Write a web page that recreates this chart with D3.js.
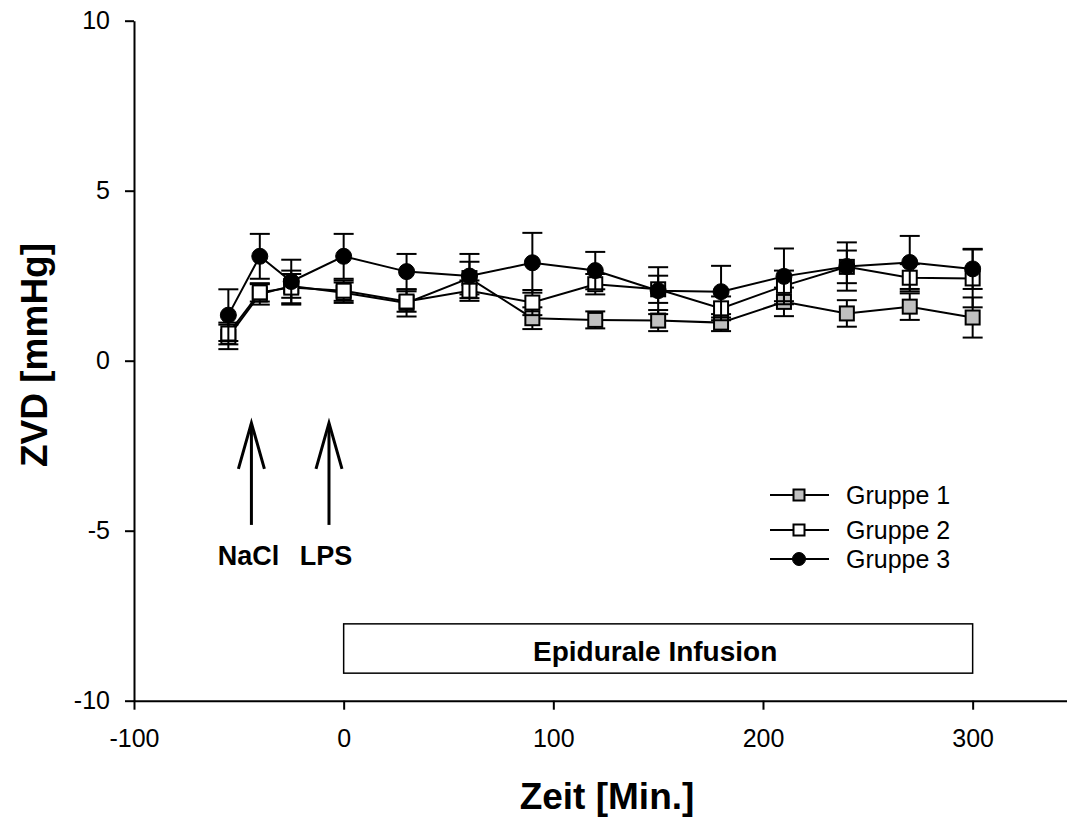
<!DOCTYPE html>
<html>
<head>
<meta charset="utf-8">
<script src="https://cdn.jsdelivr.net/npm/d3@7"></script>
<style>
  body { margin: 0; background: #fff; }
  svg { font-family: "Liberation Sans", Arial, sans-serif; }
</style>
</head>
<body>
<div id="chart"></div>
<script>
// time points in minutes
var times = [-55, -40, -25, 0, 30, 60, 90, 120, 150, 180, 210, 240, 270, 300];

// ZVD means and SEM per group
var gruppe1 = [0.70, 1.95, 2.20, 2.00, 1.70, 2.43, 1.25, 1.20, 1.18, 1.12, 1.73, 1.39, 1.59, 1.27];
var gruppe1Err = [0.36, 0.30, 0.35, 0.30, 0.40, 0.48, 0.32, 0.25, 0.31, 0.25, 0.42, 0.39, 0.39, 0.59];
var gruppe2 = [0.80, 2.01, 2.15, 2.06, 1.74, 2.06, 1.71, 2.25, 2.10, 1.54, 2.20, 2.76, 2.44, 2.42];
var gruppe2Err = [0.32, 0.27, 0.50, 0.30, 0.30, 0.30, 0.37, 0.30, 0.40, 0.35, 0.45, 0.48, 0.40, 0.85];
var gruppe3 = [1.34, 3.07, 2.33, 3.07, 2.62, 2.49, 2.88, 2.65, 2.06, 2.03, 2.48, 2.77, 2.89, 2.70];
var gruppe3Err = [0.76, 0.66, 0.64, 0.66, 0.52, 0.65, 0.88, 0.55, 0.69, 0.76, 0.82, 0.71, 0.78, 0.59];

var seriesNames = ['Gruppe 1', 'Gruppe 2', 'Gruppe 3'];
var xTicks = [-100, 0, 100, 200, 300];
var yTicks = [-10, -5, 0, 5, 10];

// annotations
var arrowLabels = ['NaCl', 'LPS'];
var arrowTimes = [-44, -7];
var infusionLabel = 'Epidurale Infusion';
var infusionStart = 0, infusionEnd = 300;

var W = 1067, H = 818;
var svg = d3.select('#chart').append('svg')
            .attr('width', W)
            .attr('height', H);

var x = d3.scaleLinear().domain([-100, 345]).range([134, 1067]);
var y = d3.scaleLinear().domain([-10, 10]).range([700.7, 20.7]);

// axes (plain hyphen for negatives, like the original)
var xAxis = svg.append('g')
               .attr('transform', 'translate(0,' + y(-10) + ')')
               .call(d3.axisBottom(x).tickValues(xTicks).tickFormat(String)
                       .tickSize(9).tickSizeOuter(0).tickPadding(20));
var yAxis = svg.append('g')
               .attr('transform', 'translate(' + x(-100) + ',0)')
               .call(d3.axisLeft(y).tickValues(yTicks).tickFormat(String)
                       .tickSize(9).tickSizeOuter(0).tickPadding(15));

[xAxis, yAxis].forEach(function(a) {
   a.select('.domain').style('stroke', '#000').style('stroke-width', 2);
   a.selectAll('.tick line').style('stroke', '#000').style('stroke-width', 2);
   a.selectAll('.tick text').style('font-size', '25px').style('fill', '#000');
});

// axis titles
svg.append('text')
   .attr('x', 607).attr('y', 809)
   .attr('text-anchor', 'middle')
   .style('font-weight', 'bold').style('font-size', '37px')
   .text('Zeit [Min.]');

svg.append('text')
   .attr('transform', 'translate(47,355) rotate(-90)')
   .attr('text-anchor', 'middle')
   .style('font-weight', 'bold').style('font-size', '37px')
   .text('ZVD [mmHg]');

// infusion box
svg.append('rect')
   .attr('x', x(infusionStart)).attr('y', y(-7.74))
   .attr('width', x(infusionEnd) - x(infusionStart))
   .attr('height', y(-9.19) - y(-7.74))
   .style('fill', 'white').style('stroke', '#000').style('stroke-width', 1.5);
svg.append('text')
   .attr('x', (x(infusionStart) + x(infusionEnd)) / 2 - 3).attr('y', 661)
   .attr('text-anchor', 'middle')
   .style('font-weight', 'bold').style('font-size', '28px')
   .text(infusionLabel);

// arrows
arrowTimes.forEach(function(t, i) {
   var ax = x(t), top = y(-1.83), bot = y(-4.83);
   var g = svg.append('g').style('stroke', '#000').style('stroke-width', 3).style('fill', 'none');
   g.append('line').attr('x1', ax).attr('x2', ax).attr('y1', top + 1).attr('y2', bot);
   g.append('path').attr('d', 'M' + (ax - 13) + ',' + (top + 46) + 'L' + ax + ',' + top + 'L' + (ax + 13) + ',' + (top + 46));
   svg.append('text')
      .attr('x', ax - 3).attr('y', 565)
      .attr('text-anchor', 'middle')
      .style('font-weight', 'bold').style('font-size', '27px')
      .text(arrowLabels[i]);
});

// series
var groups = [
   {name: seriesNames[0], vals: gruppe1, err: gruppe1Err, shape: 'square', fill: '#c0c0c0'},
   {name: seriesNames[1], vals: gruppe2, err: gruppe2Err, shape: 'square', fill: '#ffffff'},
   {name: seriesNames[2], vals: gruppe3, err: gruppe3Err, shape: 'circle', fill: '#000000'}
];

var line = d3.line().x(function(d) { return x(d.t); }).y(function(d) { return y(d.v); });

function drawMarker(sel, shape, fill, size) {
   if (shape === 'square') {
      sel.append('rect')
         .attr('x', -size / 2).attr('y', -size / 2)
         .attr('width', size).attr('height', size)
         .style('fill', fill).style('stroke', '#000').style('stroke-width', 2);
   } else {
      sel.append('circle').attr('r', size / 2 + 1)
         .style('fill', fill).style('stroke', '#000').style('stroke-width', 1);
   }
}

groups.forEach(function(g) {
   var pts = times.map(function(t, i) { return {t: t, v: g.vals[i], e: g.err[i]}; });
   var layer = svg.append('g');

   var eb = layer.selectAll('g.eb').data(pts).enter().append('g')
                 .style('stroke', '#000').style('stroke-width', 2);
   eb.append('line')
     .attr('x1', function(d) { return x(d.t); }).attr('x2', function(d) { return x(d.t); })
     .attr('y1', function(d) { return y(d.v + d.e); }).attr('y2', function(d) { return y(d.v - d.e); });
   eb.append('line')
     .attr('x1', function(d) { return x(d.t) - 10; }).attr('x2', function(d) { return x(d.t) + 10; })
     .attr('y1', function(d) { return y(d.v + d.e); }).attr('y2', function(d) { return y(d.v + d.e); });
   eb.append('line')
     .attr('x1', function(d) { return x(d.t) - 10; }).attr('x2', function(d) { return x(d.t) + 10; })
     .attr('y1', function(d) { return y(d.v - d.e); }).attr('y2', function(d) { return y(d.v - d.e); });

   layer.append('path').datum(pts).attr('d', line)
        .style('fill', 'none').style('stroke', '#000').style('stroke-width', 2);

   layer.selectAll('g.mk').data(pts).enter().append('g')
        .attr('transform', function(d) { return 'translate(' + x(d.t) + ',' + y(d.v) + ')'; })
        .each(function() { drawMarker(d3.select(this), g.shape, g.fill, 14); });
});

// legend
var legend = svg.append('g');
var legendY = [495, 530, 559];
groups.forEach(function(g, i) {
   var row = legend.append('g').attr('transform', 'translate(0,' + legendY[i] + ')');
   row.append('line').attr('x1', 770).attr('x2', 829).attr('y1', 0).attr('y2', 0)
      .style('stroke', '#000').style('stroke-width', 2);
   var m = row.append('g').attr('transform', 'translate(799,0)');
   drawMarker(m, g.shape, g.fill, 11);
   row.append('text').attr('x', 846).attr('y', 0).attr('dy', '0.35em')
      .style('font-size', '25px').text(g.name);
});
</script>
</body>
</html>
